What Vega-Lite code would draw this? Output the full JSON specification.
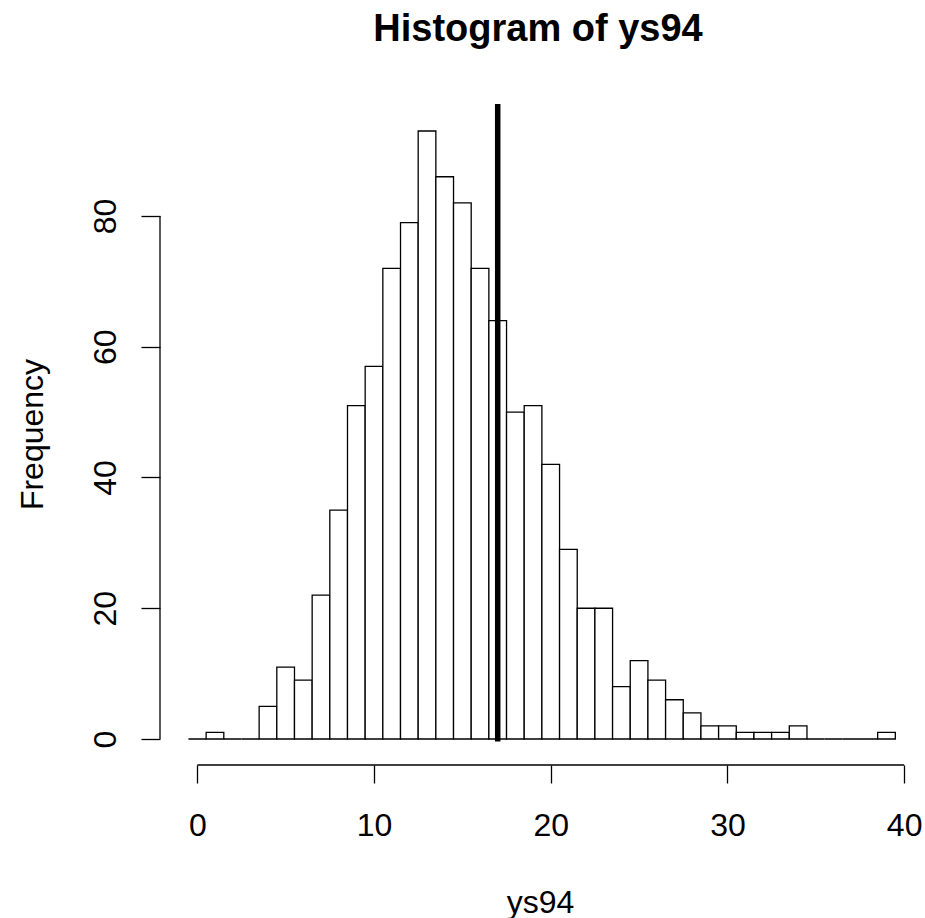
{
  "$schema": "https://vega.github.io/schema/vega-lite/v6.json",
  "autosize": "none",
  "width": 756,
  "height": 661,
  "padding": {"left": 160, "top": 104, "right": 9, "bottom": 153},
  "background": "white",
  "title": {"text": "Histogram of ys94", "fontSize": 38, "fontWeight": "bold", "font": "Liberation Sans", "color": "black", "anchor": "middle", "baseline": "alphabetic", "offset": 22},
  "config": {
    "view": {"stroke": null},
    "axis": {"grid": false, "domain": false, "labelFont": "Liberation Sans", "titleFont": "Liberation Sans", "labelFontSize": 32, "titleFontSize": 32, "titleFontWeight": "normal", "labelColor": "black", "titleColor": "black", "tickColor": "black", "tickWidth": 1.3, "labelFlush": false, "labelOverlap": false}
  },
  "data": {"values": [
    {"start": -0.5, "end": 0.5, "count": 0},
    {"start": 0.5, "end": 1.5, "count": 1},
    {"start": 1.5, "end": 2.5, "count": 0},
    {"start": 2.5, "end": 3.5, "count": 0},
    {"start": 3.5, "end": 4.5, "count": 5},
    {"start": 4.5, "end": 5.5, "count": 11},
    {"start": 5.5, "end": 6.5, "count": 9},
    {"start": 6.5, "end": 7.5, "count": 22},
    {"start": 7.5, "end": 8.5, "count": 35},
    {"start": 8.5, "end": 9.5, "count": 51},
    {"start": 9.5, "end": 10.5, "count": 57},
    {"start": 10.5, "end": 11.5, "count": 72},
    {"start": 11.5, "end": 12.5, "count": 79},
    {"start": 12.5, "end": 13.5, "count": 93},
    {"start": 13.5, "end": 14.5, "count": 86},
    {"start": 14.5, "end": 15.5, "count": 82},
    {"start": 15.5, "end": 16.5, "count": 72},
    {"start": 16.5, "end": 17.5, "count": 64},
    {"start": 17.5, "end": 18.5, "count": 50},
    {"start": 18.5, "end": 19.5, "count": 51},
    {"start": 19.5, "end": 20.5, "count": 42},
    {"start": 20.5, "end": 21.5, "count": 29},
    {"start": 21.5, "end": 22.5, "count": 20},
    {"start": 22.5, "end": 23.5, "count": 20},
    {"start": 23.5, "end": 24.5, "count": 8},
    {"start": 24.5, "end": 25.5, "count": 12},
    {"start": 25.5, "end": 26.5, "count": 9},
    {"start": 26.5, "end": 27.5, "count": 6},
    {"start": 27.5, "end": 28.5, "count": 4},
    {"start": 28.5, "end": 29.5, "count": 2},
    {"start": 29.5, "end": 30.5, "count": 2},
    {"start": 30.5, "end": 31.5, "count": 1},
    {"start": 31.5, "end": 32.5, "count": 1},
    {"start": 32.5, "end": 33.5, "count": 1},
    {"start": 33.5, "end": 34.5, "count": 2},
    {"start": 34.5, "end": 35.5, "count": 0},
    {"start": 35.5, "end": 36.5, "count": 0},
    {"start": 36.5, "end": 37.5, "count": 0},
    {"start": 37.5, "end": 38.5, "count": 0},
    {"start": 38.5, "end": 39.5, "count": 1}
  ]},
  "layer": [
    {
      "mark": {"type": "bar", "fill": "white", "stroke": "black", "strokeWidth": 1.3, "clip": false},
      "encoding": {
        "x": {"field": "start", "type": "quantitative", "scale": {"domain": [-2.11, 40.67], "nice": false, "zero": false},
          "axis": {"values": [0, 10, 20, 30, 40], "tickSize": 18, "labelBaseline": "alphabetic", "labelPadding": 52, "title": "ys94", "titleBaseline": "alphabetic", "titleY": 147, "titleX": 380}},
        "x2": {"field": "end"},
        "y": {"field": "count", "type": "quantitative", "scale": {"domain": [-3.977, 97.13], "nice": false, "zero": false},
          "axis": {"values": [0, 20, 40, 60, 80], "tickSize": 19, "labelAngle": -90, "labelAlign": "center", "labelBaseline": "alphabetic", "labelPadding": 26, "title": "Frequency", "titleAngle": -90, "titleAlign": "center", "titleBaseline": "alphabetic", "titleX": -118, "titleY": 330}},
        "y2": {"datum": 0}
      }
    },
    {
      "data": {"values": [{"v": 17}]},
      "mark": {"type": "rule", "color": "black", "strokeWidth": 5.5},
      "encoding": {
        "x": {"field": "v", "type": "quantitative"},
        "y": {"datum": -0.4},
        "y2": {"datum": 97.13}
      }
    },
    {
      "data": {"values": [{"a": 0, "b": 40}]},
      "mark": {"type": "rule", "color": "black", "strokeWidth": 1.3},
      "encoding": {
        "x": {"field": "a", "type": "quantitative"},
        "x2": {"field": "b"},
        "y": {"datum": -3.977}
      }
    },
    {
      "data": {"values": [{"a": 0, "b": 80}]},
      "mark": {"type": "rule", "color": "black", "strokeWidth": 1.3},
      "encoding": {
        "x": {"datum": -2.11},
        "y": {"field": "a", "type": "quantitative"},
        "y2": {"field": "b"}
      }
    }
  ]
}
